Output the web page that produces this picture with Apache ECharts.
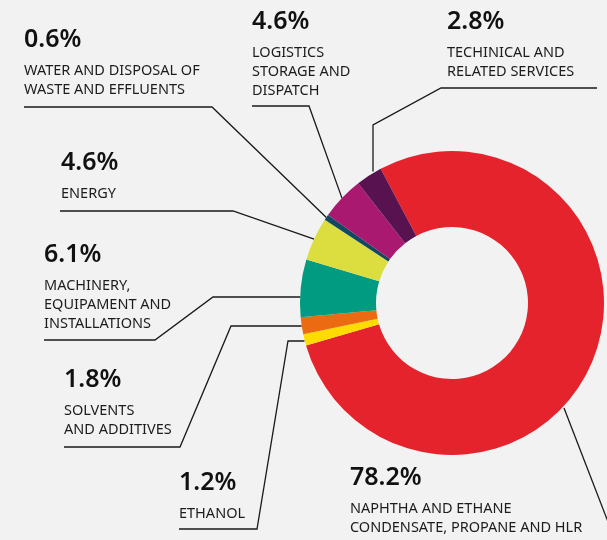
<!DOCTYPE html>
<html>
<head>
<meta charset="utf-8">
<script src="https://cdn.jsdelivr.net/npm/echarts@6/dist/echarts.min.js"></script>
<style>
  html, body { margin: 0; padding: 0; background: #f2f2f2; }
  #main { width: 607px; height: 540px; }
</style>
</head>
<body>
<div id="main"></div>
<script>
// data, clockwise from the top of the red slice
const categories = [
  'NAPHTHA AND ETHANE\nCONDENSATE, PROPANE AND HLR',
  'ETHANOL',
  'SOLVENTS\nAND ADDITIVES',
  'MACHINERY,\nEQUIPAMENT AND\nINSTALLATIONS',
  'ENERGY',
  'WATER AND DISPOSAL OF\nWASTE AND EFFLUENTS',
  'LOGISTICS\nSTORAGE AND\nDISPATCH',
  'TECHINICAL AND\nRELATED SERVICES'
]
const shares = [78.2, 1.2, 1.8, 6.1, 4.6, 0.6, 4.6, 2.8]
const colors = ['#e4232c', '#ffdc00', '#ec6a12', '#009b80', '#dcdd3f', '#0e4a62', '#a8196f', '#581250']

// label box (top-left) and leader elbows, per slice
const labelSpots = [
  { x: 350, y: 456, lead: [[564, 408], [615, 540]], own: true },
  { x: 179, y: 461, lead: [[288, 341], [257, 529], [179, 529]], flat: true },
  { x: 64, y: 358, lead: [[231, 326], [180, 447], [64, 447]], flat: true },
  { x: 44, y: 233, lead: [[213, 297], [155, 340], [44, 340]], flat: true },
  { x: 61, y: 141, lead: [[233, 211], [60, 211]] },
  { x: 24, y: 18, lead: [[212, 107], [24, 107]] },
  { x: 252, y: 0, lead: [[309, 106], [252, 106]] },
  { x: 447, y: 0, lead: [[373, 125], [441, 88], [597, 88]], vert: true }
]

const chart = echarts.init(document.getElementById('main'))

const option = {
  backgroundColor: '#f2f2f2',
  animation: false,
  series: [{
    type: 'pie',
    center: [452, 303],
    radius: [76, 152],
    startAngle: 118,
    clockwise: true,
    silent: true,
    avoidLabelOverlap: false,
    data: categories.map((name, i) => ({
      name: name,
      value: shares[i],
      itemStyle: { color: colors[i] }
    })),
    label: {
      show: true,
      position: 'outer',
      overflow: 'none',
      formatter: p => '{v|' + p.value + '%}\n{t|' + p.name.split('\n').join('}\n{t|') + '}',
      rich: {
        v: { fontFamily: 'Noto Sans', fontSize: 25, fontWeight: 600, letterSpacing: -1.5, color: '#111', lineHeight: 44 },
        t: { fontFamily: 'Noto Sans', fontSize: 14.5, color: '#1c1c1c', lineHeight: 18.7 }
      }
    },
    labelLine: {
      show: true,
      smooth: false,
      lineStyle: { color: '#1a1a1a', width: 1.3 }
    },
    labelLayout: params => {
      const spot = labelSpots[params.dataIndex]
      const anchor = params.labelLinePoints[0]
      let start = anchor
      if (spot.flat) start = [anchor[0], spot.lead[0][1]]
      if (spot.vert) start = [spot.lead[0][0], anchor[1] - 4]
      const pts = spot.own ? spot.lead : [start].concat(spot.lead)
      return {
        x: spot.x,
        y: spot.y,
        align: 'left',
        verticalAlign: 'top',
        labelLinePoints: pts
      }
    }
  }]
}

chart.setOption(option)
</script>
</body>
</html>
